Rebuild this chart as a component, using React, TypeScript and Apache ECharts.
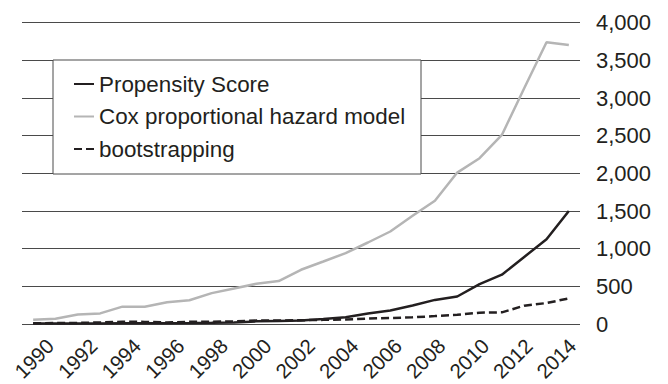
import React, { useEffect, useRef } from "react";
import * as echarts from "echarts";

const years: string[] = [
  "1990", "1991", "1992", "1993", "1994", "1995", "1996", "1997", "1998", "1999",
  "2000", "2001", "2002", "2003", "2004", "2005", "2006", "2007", "2008", "2009",
  "2010", "2011", "2012", "2013", "2014",
];

const propensityScore: number[] = [
  5, 5, 5, 8, 10, 10, 10, 12, 15, 20,
  35, 40, 45, 65, 90, 140, 180, 245, 320, 365,
  530, 655, 890, 1125, 1500,
];

const coxModel: number[] = [
  57, 70, 125, 141, 230, 230, 290, 315, 410, 472,
  534, 570, 720, 830, 941, 1082, 1228, 1436, 1637, 2010,
  2201, 2510, 3130, 3740, 3704,
];

const bootstrapping: number[] = [
  10, 12, 15, 20, 30, 28, 20, 30, 30, 35,
  45, 45, 50, 55, 60, 72, 80, 88, 105, 123,
  150, 155, 243, 278, 340,
];

const seriesNames: string[] = [
  "Propensity Score",
  "Cox proportional hazard model",
  "bootstrapping",
];

const FONT = "'Liberation Sans', Arial, Helvetica, sans-serif";
const INK = "#231f20";

export default function App() {
  const ref = useRef<HTMLDivElement>(null);

  useEffect(() => {
    document.body.style.margin = "0";
    if (!ref.current) return;
    const chart = echarts.init(ref.current, undefined, { renderer: "svg" });
    chart.setOption({
      animation: false,
      backgroundColor: "#ffffff",
      textStyle: { fontFamily: FONT },
      grid: [
        { left: 22, right: 88, top: 22.7, bottom: 60 },
        { left: 23.1, right: 101.1, top: 22.7, bottom: 60 },
      ],
      graphic: [
        {
          type: "rect",
          z: 5,
          shape: { x: 53, y: 60, width: 368, height: 114 },
          style: { fill: "#ffffff", stroke: "#4a4a4a", lineWidth: 1 },
        },
      ],
      legend: {
        z: 6,
        orient: "vertical",
        left: 53,
        top: 60,
        padding: [13, 14, 14, 20],
        itemWidth: 20,
        itemHeight: 14,
        itemGap: 10.5,
        data: seriesNames,
        itemStyle: { opacity: 0 },
        textStyle: {
          fontFamily: FONT,
          fontSize: 22.4,
          lineHeight: 20,
          color: INK,
        },
      },
      xAxis: [
        {
          type: "category",
          gridIndex: 0,
          data: years,
          boundaryGap: true,
          axisLine: { show: false },
          axisTick: { show: false },
          axisLabel: { show: false },
        },
        {
          type: "category",
          gridIndex: 1,
          data: years,
          boundaryGap: true,
          axisLine: { show: false },
          axisTick: { show: false },
          splitLine: { show: false },
          axisLabel: {
            interval: 1,
            rotate: 45,
            align: "center",
            verticalAlign: "middle",
            margin: 36,
            fontFamily: FONT,
            fontSize: 20.5,
            color: INK,
          },
        },
      ],
      yAxis: [
        {
          type: "value",
          gridIndex: 0,
          position: "right",
          min: 0,
          max: 4000,
          interval: 500,
          axisLine: { show: false },
          axisTick: { show: false },
          splitLine: { lineStyle: { color: "#4a4a4a", width: 1 } },
          axisLabel: {
            margin: 16,
            fontFamily: FONT,
            fontSize: 22,
            color: INK,
            formatter: (v: number) => v.toLocaleString("en-US"),
          },
        },
        {
          type: "value",
          gridIndex: 1,
          min: 0,
          max: 4000,
          show: false,
        },
      ],
      series: [
        {
          name: seriesNames[0],
          type: "line",
          data: propensityScore,
          symbol: "none",
          z: 3,
          lineStyle: { color: INK, width: 2.5 },
          itemStyle: { color: INK },
        },
        {
          name: seriesNames[1],
          type: "line",
          data: coxModel,
          symbol: "none",
          z: 2,
          lineStyle: { color: "#b5b5b5", width: 2.5 },
          itemStyle: { color: "#b5b5b5" },
        },
        {
          name: seriesNames[2],
          type: "line",
          data: bootstrapping,
          symbol: "none",
          z: 3,
          lineStyle: { color: INK, width: 2.5, type: [8, 4] },
          itemStyle: { color: INK },
        },
      ],
    });
    return () => chart.dispose();
  }, []);

  return <div ref={ref} style={{ width: 668, height: 384 }} />;
}
